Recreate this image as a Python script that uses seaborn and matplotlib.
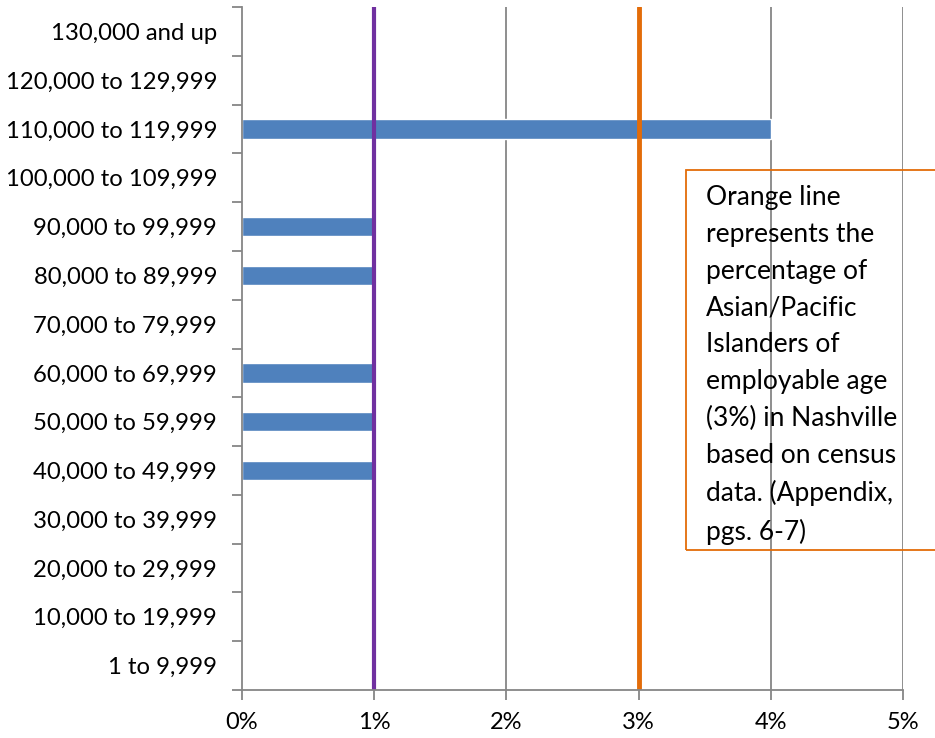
import matplotlib
matplotlib.use("Agg")
import matplotlib.pyplot as plt
from matplotlib.patches import Rectangle
from matplotlib.ticker import FuncFormatter, FixedLocator
import numpy as np
import pandas as pd
import seaborn as sns

# Salary bands, listed from the top of the chart downward
salary_bands = [
    "130,000 and up",
    "120,000 to 129,999",
    "110,000 to 119,999",
    "100,000 to 109,999",
    "90,000 to 99,999",
    "80,000 to 89,999",
    "70,000 to 79,999",
    "60,000 to 69,999",
    "50,000 to 59,999",
    "40,000 to 49,999",
    "30,000 to 39,999",
    "20,000 to 29,999",
    "10,000 to 19,999",
    "1 to 9,999",
]
# Share of Asian/Pacific Islander employees in each band (percent)
api_share = [0, 0, 4, 0, 1, 1, 0, 1, 1, 1, 0, 0, 0, 0]

# Reference lines (percent)
purple_ref = 1
census_ref = 3

x_ticks = [0, 1, 2, 3, 4, 5]

note_text = ("Orange line\nrepresents the\npercentage of\nAsian/Pacific\n"
             "Islanders of\nemployable age\n(3%) in Nashville\nbased on census\n"
             "data. (Appendix,\npgs. 6-7)")

sns.set_theme(style="white")
plt.rcParams["font.family"] = ["Lato", "DejaVu Sans"]

W, H = 935, 738
fig = plt.figure(figsize=(W / 100, H / 100), dpi=100)
ax = fig.add_axes([242 / W, (H - 690) / H, (903 - 242) / W, (690 - 7) / H])

df = pd.DataFrame({"band": salary_bands, "share": api_share})
sns.barplot(data=df, x="share", y="band", order=salary_bands, color="#4F81BD",
            saturation=1, width=0.4, ax=ax, zorder=3)

grey = "#868686"
ax.set_xlim(0, 5)
ax.set_ylim(len(salary_bands) - 0.5, -0.5)
ax.set_xlabel("")
ax.set_ylabel("")

for x in x_ticks[1:]:
    ax.axvline(x, color=grey, lw=1.3, zorder=1)

ax.axvline(purple_ref, color="#7030A0", lw=3, zorder=4)
ax.axvline(census_ref, color="#E36C09", lw=3.5, zorder=4)

for side in ["top", "right"]:
    ax.spines[side].set_visible(False)
for side in ["left", "bottom"]:
    ax.spines[side].set_color(grey)
    ax.spines[side].set_linewidth(1.3)
    ax.spines[side].set_zorder(5)

ax.set_xticks(x_ticks)
ax.xaxis.set_major_formatter(FuncFormatter(lambda v, p: f"{v:.0f}%"))
ax.tick_params(axis="x", length=7, width=1.3, color=grey, pad=9,
               labelsize=17, labelcolor="black", direction="out", bottom=True)

ax.yaxis.set_minor_locator(FixedLocator(np.arange(-0.5, len(salary_bands), 1.0)))
ax.tick_params(axis="y", which="major", length=0, pad=18, labelsize=17.2,
               labelcolor="black")
ax.tick_params(axis="y", which="minor", length=7, width=1.3, color=grey,
               direction="out", left=True)

# Annotation box, running off the right edge of the figure
fig.patches.append(Rectangle((685.5 / W, (H - 550) / H), 300 / W, (550 - 169.5) / H,
                             transform=fig.transFigure, fill=False,
                             edgecolor="#E36C09", lw=1.3, zorder=6))
fig.text(706 / W, (H - 185) / H, note_text, fontsize=19, color="black",
         va="top", ha="left", linespacing=1.59, zorder=7)

fig.savefig("out.png", dpi=100, facecolor="white")
